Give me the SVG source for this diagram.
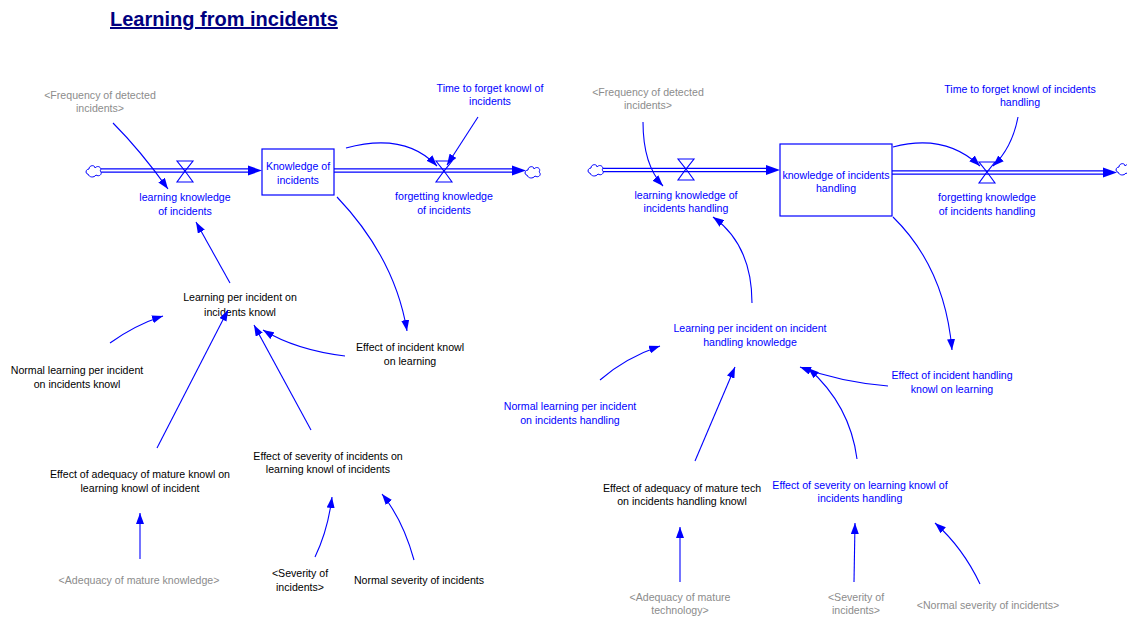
<svg xmlns="http://www.w3.org/2000/svg" width="1127" height="617" viewBox="0 0 1127 617">
  <style>
    text { font-family: "Liberation Sans", Arial, sans-serif; font-size: 10.6px; text-anchor: middle; }
    .blue { fill: #0000ff; }
    .black { fill: #000000; }
    .grey { fill: #8c8c8c; }
    .title { font-size: 20px; font-weight: bold; fill: #000080; text-decoration: underline; text-anchor: start; }
    .link { fill: none; stroke: #0000ff; stroke-width: 1.1; marker-end: url(#head); }
    .pipe-out { fill: none; stroke: #0000ff; stroke-width: 4.6; }
    .pipe-in { fill: none; stroke: #ffffff; stroke-width: 2.2; }
    .stock { fill: #ffffff; stroke: #0000ff; stroke-width: 1.2; }
    .valve { fill: #ffffff; fill-opacity: 0; stroke: #0000ff; stroke-width: 1.1; }
    .cloud { fill: #ffffff; stroke: #0000ff; stroke-width: 1; }
  </style>
  <defs>
    <marker id="head" viewBox="0 0 11 8" refX="11" refY="4" markerWidth="11" markerHeight="8" markerUnits="userSpaceOnUse" orient="auto">
      <path d="M0,0 L11,4 L0,8 Z" fill="#0000ff"/>
    </marker>
    <path id="cloudShape" d="M-6,3 C-9,3 -8.5,-2 -5,-2 C-5,-6 1,-6.5 1,-3 C4,-6.5 8.5,-3 6,0 C9,2 6,6.5 2,4 C0,7 -5,6.5 -6,3 Z"/>
    <path id="flowHead" d="M0,-5 L14,0 L0,5 Z" fill="#0000ff"/>
    <path id="valveShape" d="M-8,-10 L8,-10 L0,0 Z M0,0 L8,11 L-8,11 Z"/>
  </defs>

  <text class="title" x="110" y="26">Learning from incidents</text>

  <!-- ============ incidents knowledge sector ============ -->
  <g id="flows-left">
    <path class="pipe-out" d="M101,170.5 L250,170.5"/>
    <path class="pipe-in" d="M101,170.5 L250,170.5"/>
    <use href="#flowHead" x="248" y="170.5"/>
    <path class="pipe-out" d="M334,170.5 L513,170.5"/>
    <path class="pipe-in" d="M334,170.5 L513,170.5"/>
    <use href="#flowHead" x="512" y="170.5"/>
  </g>

  <g id="source-cloud-left"><use href="#cloudShape" class="cloud" x="94" y="171"/></g>
  <g id="sink-cloud-left"><use href="#cloudShape" class="cloud" x="533" y="172"/></g>

  <g id="learning-knowledge-of-incidents">
    <use href="#valveShape" class="valve" x="185" y="171"/>
    <text class="blue" x="185" y="201">learning knowledge</text>
    <text class="blue" x="185" y="215">of incidents</text>
  </g>

  <g id="knowledge-of-incidents">
    <rect class="stock" x="262" y="149" width="72" height="46"/>
    <text class="blue" x="298" y="170">Knowledge of</text>
    <text class="blue" x="298" y="184">incidents</text>
  </g>

  <g id="forgetting-knowledge-of-incidents">
    <use href="#valveShape" class="valve" x="444" y="171"/>
    <text class="blue" x="444" y="200">forgetting knowledge</text>
    <text class="blue" x="444" y="214">of incidents</text>
  </g>

  <g id="frequency-left">
    <text class="grey" x="100" y="99">&lt;Frequency of detected</text>
    <text class="grey" x="100" y="112">incidents&gt;</text>
  </g>

  <g id="time-to-forget-left">
    <text class="blue" x="490" y="92">Time to forget knowl of</text>
    <text class="blue" x="490" y="105">incidents</text>
  </g>

  <g id="learning-per-incident-left">
    <text class="black" x="240" y="301">Learning per incident on</text>
    <text class="black" x="240" y="316">incidents knowl</text>
  </g>

  <g id="effect-incident-knowl">
    <text class="black" x="410" y="351">Effect of incident knowl</text>
    <text class="black" x="410" y="365">on learning</text>
  </g>

  <g id="normal-learning-left">
    <text class="black" x="77" y="374">Normal learning per incident</text>
    <text class="black" x="77" y="388">on incidents knowl</text>
  </g>

  <g id="effect-adequacy-knowl">
    <text class="black" x="140" y="478">Effect of adequacy of mature knowl on</text>
    <text class="black" x="140" y="492">learning knowl of incident</text>
  </g>

  <g id="effect-severity-left">
    <text class="black" x="328" y="460">Effect of severity of incidents on</text>
    <text class="black" x="328" y="473">learning knowl of incidents</text>
  </g>

  <g id="adequacy-mature-knowledge">
    <text class="grey" x="139" y="584">&lt;Adequacy of mature knowledge&gt;</text>
  </g>

  <g id="severity-left">
    <text class="black" x="300" y="577">&lt;Severity of</text>
    <text class="black" x="300" y="591">incidents&gt;</text>
  </g>

  <g id="normal-severity-left">
    <text class="black" x="419" y="584">Normal severity of incidents</text>
  </g>

  <!-- ============ incidents handling sector ============ -->
  <g id="flows-right">
    <path class="pipe-out" d="M603,170 L768,170"/>
    <path class="pipe-in" d="M603,170 L768,170"/>
    <use href="#flowHead" x="766" y="170"/>
    <path class="pipe-out" d="M892,172.5 L1104,172.5"/>
    <path class="pipe-in" d="M892,172.5 L1104,172.5"/>
    <use href="#flowHead" x="1103" y="172.5"/>
  </g>

  <g id="source-cloud-right"><use href="#cloudShape" class="cloud" x="596" y="170"/></g>
  <g id="sink-cloud-right"><use href="#cloudShape" class="cloud" x="1124" y="169"/></g>

  <g id="learning-knowledge-of-incidents-handling">
    <use href="#valveShape" class="valve" x="686" y="169"/>
    <text class="blue" x="686" y="199">learning knowledge of</text>
    <text class="blue" x="686" y="212">incidents handling</text>
  </g>

  <g id="knowledge-of-incidents-handling">
    <rect class="stock" x="780" y="144" width="112" height="72"/>
    <text class="blue" x="836" y="179">knowledge of incidents</text>
    <text class="blue" x="836" y="192">handling</text>
  </g>

  <g id="forgetting-knowledge-of-incidents-handling">
    <use href="#valveShape" class="valve" x="987" y="172"/>
    <text class="blue" x="987" y="201">forgetting knowledge</text>
    <text class="blue" x="987" y="215">of incidents handling</text>
  </g>

  <g id="frequency-right">
    <text class="grey" x="648" y="96">&lt;Frequency of detected</text>
    <text class="grey" x="648" y="109">incidents&gt;</text>
  </g>

  <g id="time-to-forget-right">
    <text class="blue" x="1020" y="93">Time to forget knowl of incidents</text>
    <text class="blue" x="1020" y="106">handling</text>
  </g>

  <g id="learning-per-incident-right">
    <text class="blue" x="750" y="332">Learning per incident on incident</text>
    <text class="blue" x="750" y="346">handling knowledge</text>
  </g>

  <g id="normal-learning-right">
    <text class="blue" x="570" y="410">Normal learning per incident</text>
    <text class="blue" x="570" y="424">on incidents handling</text>
  </g>

  <g id="effect-incident-handling-knowl">
    <text class="blue" x="952" y="379">Effect of incident handling</text>
    <text class="blue" x="952" y="393">knowl on learning</text>
  </g>

  <g id="effect-adequacy-tech">
    <text class="black" x="682" y="492">Effect of adequacy of mature tech</text>
    <text class="black" x="682" y="505">on incidents handling knowl</text>
  </g>

  <g id="effect-severity-right">
    <text class="blue" x="860" y="489">Effect of severity on learning knowl of</text>
    <text class="blue" x="860" y="502">incidents handling</text>
  </g>

  <g id="adequacy-mature-technology">
    <text class="grey" x="680" y="601">&lt;Adequacy of mature</text>
    <text class="grey" x="680" y="614">technology&gt;</text>
  </g>

  <g id="severity-right">
    <text class="grey" x="856" y="601">&lt;Severity of</text>
    <text class="grey" x="856" y="614">incidents&gt;</text>
  </g>

  <g id="normal-severity-right">
    <text class="grey" x="988" y="609">&lt;Normal severity of incidents&gt;</text>
  </g>

  <!-- ============ causal links ============ -->
  <g id="connectors">
    <!-- incidents knowledge sector -->
    <path class="link" d="M113,123 Q140,150 168,189"/>
    <path class="link" d="M478,117 L447,165"/>
    <path class="link" d="M346,148 Q405,132 437,166"/>
    <path class="link" d="M337,197 Q395,258 407,331"/>
    <path class="link" d="M345,356 Q296,350 263,330"/>
    <path class="link" d="M230,283 L196,222"/>
    <path class="link" d="M110,343 Q135,325 163,316"/>
    <path class="link" d="M157,448 L228,310"/>
    <path class="link" d="M311,430 L254,325"/>
    <path class="link" d="M140,559 L140,513"/>
    <path class="link" d="M315,557 Q328,530 332,497"/>
    <path class="link" d="M414,560 Q403,520 382,494"/>
    <!-- incidents handling sector -->
    <path class="link" d="M643,122 Q643,165 663,186"/>
    <path class="link" d="M1018,117 Q1012,148 993,166"/>
    <path class="link" d="M893,147 Q945,133 980,166"/>
    <path class="link" d="M893,217 Q945,268 952,350"/>
    <path class="link" d="M752,303 Q752,245 713,217"/>
    <path class="link" d="M600,380 Q625,358 660,346"/>
    <path class="link" d="M888,386 Q840,382 800,367"/>
    <path class="link" d="M695,461 L735,367"/>
    <path class="link" d="M857,459 Q850,405 808,368"/>
    <path class="link" d="M680,582 L680,527"/>
    <path class="link" d="M854,582 L855,523"/>
    <path class="link" d="M980,584 Q963,548 935,523"/>
  </g>
</svg>
